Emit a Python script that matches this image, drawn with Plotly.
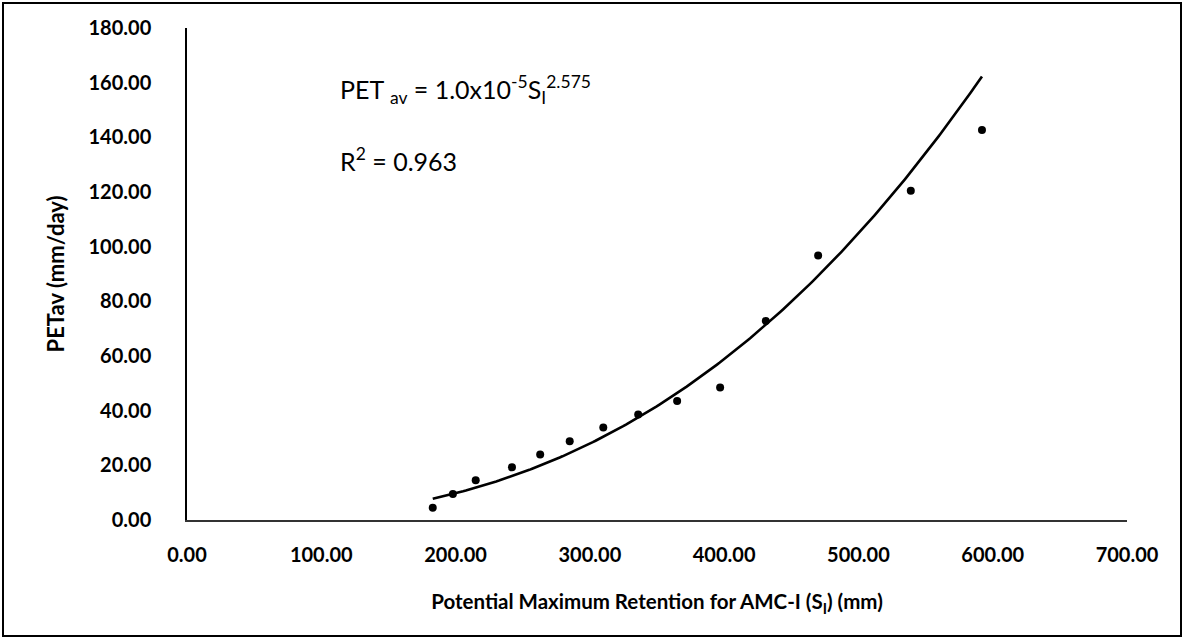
import numpy as np
import plotly.graph_objects as go

# Data
s_i = [183, 198, 215, 242, 263, 285, 310, 336, 365, 397, 431, 470, 539, 592]
pet_av = [4.5, 9.5, 14.5, 19.3, 24.0, 28.8, 33.8, 38.6, 43.5, 48.5, 72.8, 96.8, 120.5, 142.7]
x_ticks = [0, 100, 200, 300, 400, 500, 600, 700]
y_ticks = [0, 20, 40, 60, 80, 100, 120, 140, 160, 180]

# Power trendline (least squares in log-log space, as a spreadsheet does)
b, ln_a = np.polyfit(np.log(s_i), np.log(pet_av), 1)
xt = np.linspace(min(s_i), max(s_i), 200)
yt = np.exp(ln_a) * xt ** b

W, H = 1185, 639
L, T = 187, 28
R = W - 1127
B = H - 520
pw, ph = W - L - R, H - T - B


def px_x(p):
    return (p - L) / pw


def px_y(p):
    return (520 - p) / ph


font = "Lato, 'Open Sans', sans-serif"

fig = go.Figure()
fig.add_trace(go.Scatter(x=xt, y=yt, mode="lines",
                         line=dict(color="black", width=2.6), showlegend=False))
fig.add_trace(go.Scatter(x=s_i, y=pet_av, mode="markers",
                         marker=dict(color="black", size=8), showlegend=False))

fig.update_layout(
    width=W, height=H,
    margin=dict(l=L, r=R, t=T, b=B, autoexpand=False),
    paper_bgcolor="white", plot_bgcolor="white",
    font=dict(family=font, color="black", size=20),
    showlegend=False,
    xaxis=dict(range=[0, 700], tickvals=x_ticks,
               ticktext=[f"{v:.2f}" for v in x_ticks],
               showgrid=False, zeroline=False, showline=True,
               linecolor="#333333", linewidth=2, ticks="",
               ticklabelstandoff=16, automargin=False,
               tickfont=dict(family=font, size=20, color="black", weight="bold"),
               title=dict(text="<b>Potential Maximum Retention for AMC-I (S<sub>I</sub>) (mm)</b>",
                          font=dict(family=font, size=20.5, color="black"), standoff=30)),
    yaxis=dict(range=[0, 180], tickvals=y_ticks,
               ticktext=[f"{v:.2f}" for v in y_ticks],
               showgrid=False, zeroline=False, showline=True,
               linecolor="black", linewidth=1.5, ticks="",
               ticklabelstandoff=30, automargin=False,
               tickfont=dict(family=font, size=20, color="black", weight="bold"),
               title=dict(text="<b>PETav (mm/day)</b>",
                          font=dict(family=font, size=22, color="black"), standoff=18)),
)

fig.add_annotation(x=px_x(338), y=px_y(90), xref="paper", yref="paper",
                   xanchor="left", yanchor="middle", showarrow=False,
                   text="PET <sub>av</sub> = 1.0x10<sup>-5</sup>S<sub>I</sub><sup>2.575</sup>",
                   font=dict(family=font, size=25, color="black"))
fig.add_annotation(x=px_x(338), y=px_y(159), xref="paper", yref="paper",
                   xanchor="left", yanchor="middle", showarrow=False,
                   text="R<sup>2</sup> = 0.963",
                   font=dict(family=font, size=25, color="black"))

# Outer frame around the whole chart
fig.add_shape(type="rect", xref="paper", yref="paper",
              x0=px_x(3), x1=px_x(1181),
              y0=px_y(636), y1=px_y(3),
              line=dict(color="black", width=2), fillcolor="rgba(0,0,0,0)")

fig.write_html("out.html",
               config={"displayModeBar": False},
               post_script="document.body.style.margin='0';document.body.style.overflow='hidden';")
